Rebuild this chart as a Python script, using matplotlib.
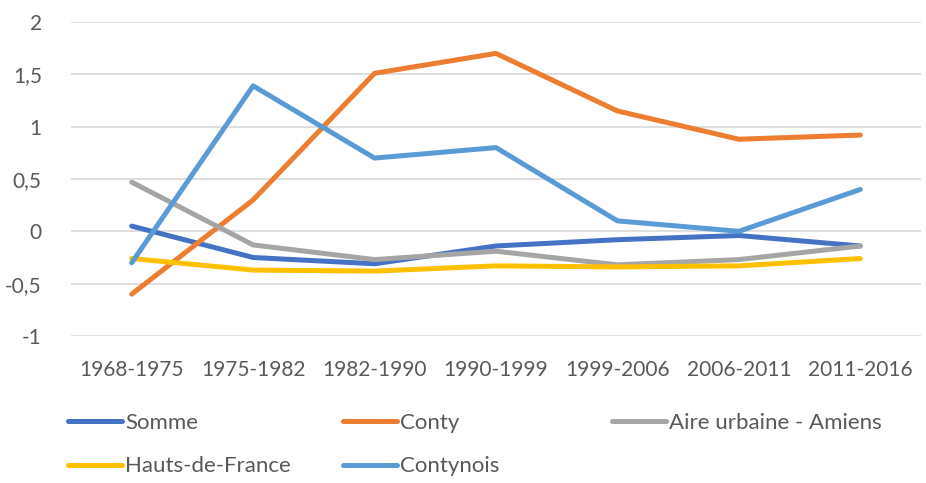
import matplotlib
matplotlib.use("Agg")
import matplotlib.pyplot as plt
from matplotlib.ticker import FuncFormatter, FixedLocator

plt.rcParams['font.family'] = ['Lato', 'DejaVu Sans']

periods = ["1968-1975", "1975-1982", "1982-1990", "1990-1999",
           "1999-2006", "2006-2011", "2011-2016"]

somme = [0.05, -0.25, -0.31, -0.14, -0.08, -0.04, -0.14]
conty = [-0.60, 0.30, 1.51, 1.70, 1.15, 0.88, 0.92]
aire_urbaine = [0.47, -0.13, -0.27, -0.19, -0.32, -0.27, -0.14]
hauts_de_france = [-0.26, -0.37, -0.38, -0.33, -0.34, -0.33, -0.26]
contynois = [-0.30, 1.39, 0.70, 0.80, 0.10, 0.00, 0.40]

series = [
    ("Somme", somme, "#4472C4"),
    ("Conty", conty, "#ED7D31"),
    ("Aire urbaine - Amiens", aire_urbaine, "#A5A5A5"),
    ("Hauts-de-France", hauts_de_france, "#FFC000"),
    ("Contynois", contynois, "#5B9BD5"),
]

text_color = "#595959"
tick_fs = 15
legend_fs = 16

fig = plt.figure(figsize=(9.26, 4.83), dpi=100)
ax = fig.add_axes([71 / 926, 1 - 336 / 483, 850 / 926, 314 / 483])

x = list(range(len(periods)))
lines = {}
for name, vals, color in series:
    (ln,) = ax.plot(x, vals, color=color, lw=3.6, solid_capstyle="round",
                    solid_joinstyle="round", label=name, zorder=3)
    lines[name] = ln

ax.set_xlim(-0.5, len(periods) - 0.5)
ax.set_ylim(-1, 2)
ax.yaxis.set_major_locator(FixedLocator([-1, -0.5, 0, 0.5, 1, 1.5, 2]))
ax.yaxis.set_major_formatter(FuncFormatter(
    lambda v, p: ("%g" % v).replace(".", ",")))
ax.set_xticks(x)
ax.set_xticklabels(periods)

ax.grid(axis="y", color="#D9D9D9", lw=1.2, zorder=0)
ax.set_axisbelow(True)
for s in ax.spines.values():
    s.set_visible(False)
ax.tick_params(axis="both", length=0, labelsize=tick_fs, labelcolor=text_color)
ax.tick_params(axis="y", pad=21)
ax.tick_params(axis="x", pad=17)

# Legend laid out in three fixed columns
columns = [
    (68, ["Somme", "Hauts-de-France"]),
    (343, ["Conty", "Contynois"]),
    (612, ["Aire urbaine - Amiens"]),
]
for xpix, names in columns:
    fig.legend([lines[n] for n in names], names,
               loc="upper left",
               bbox_to_anchor=(xpix / 926, 1 - 413 / 483),
               frameon=False, fontsize=legend_fs, handlelength=2.45,
               handletextpad=0.12, borderaxespad=0, borderpad=0,
               labelspacing=1.05, labelcolor=text_color)

fig.savefig("out.png", dpi=100, facecolor="white")
